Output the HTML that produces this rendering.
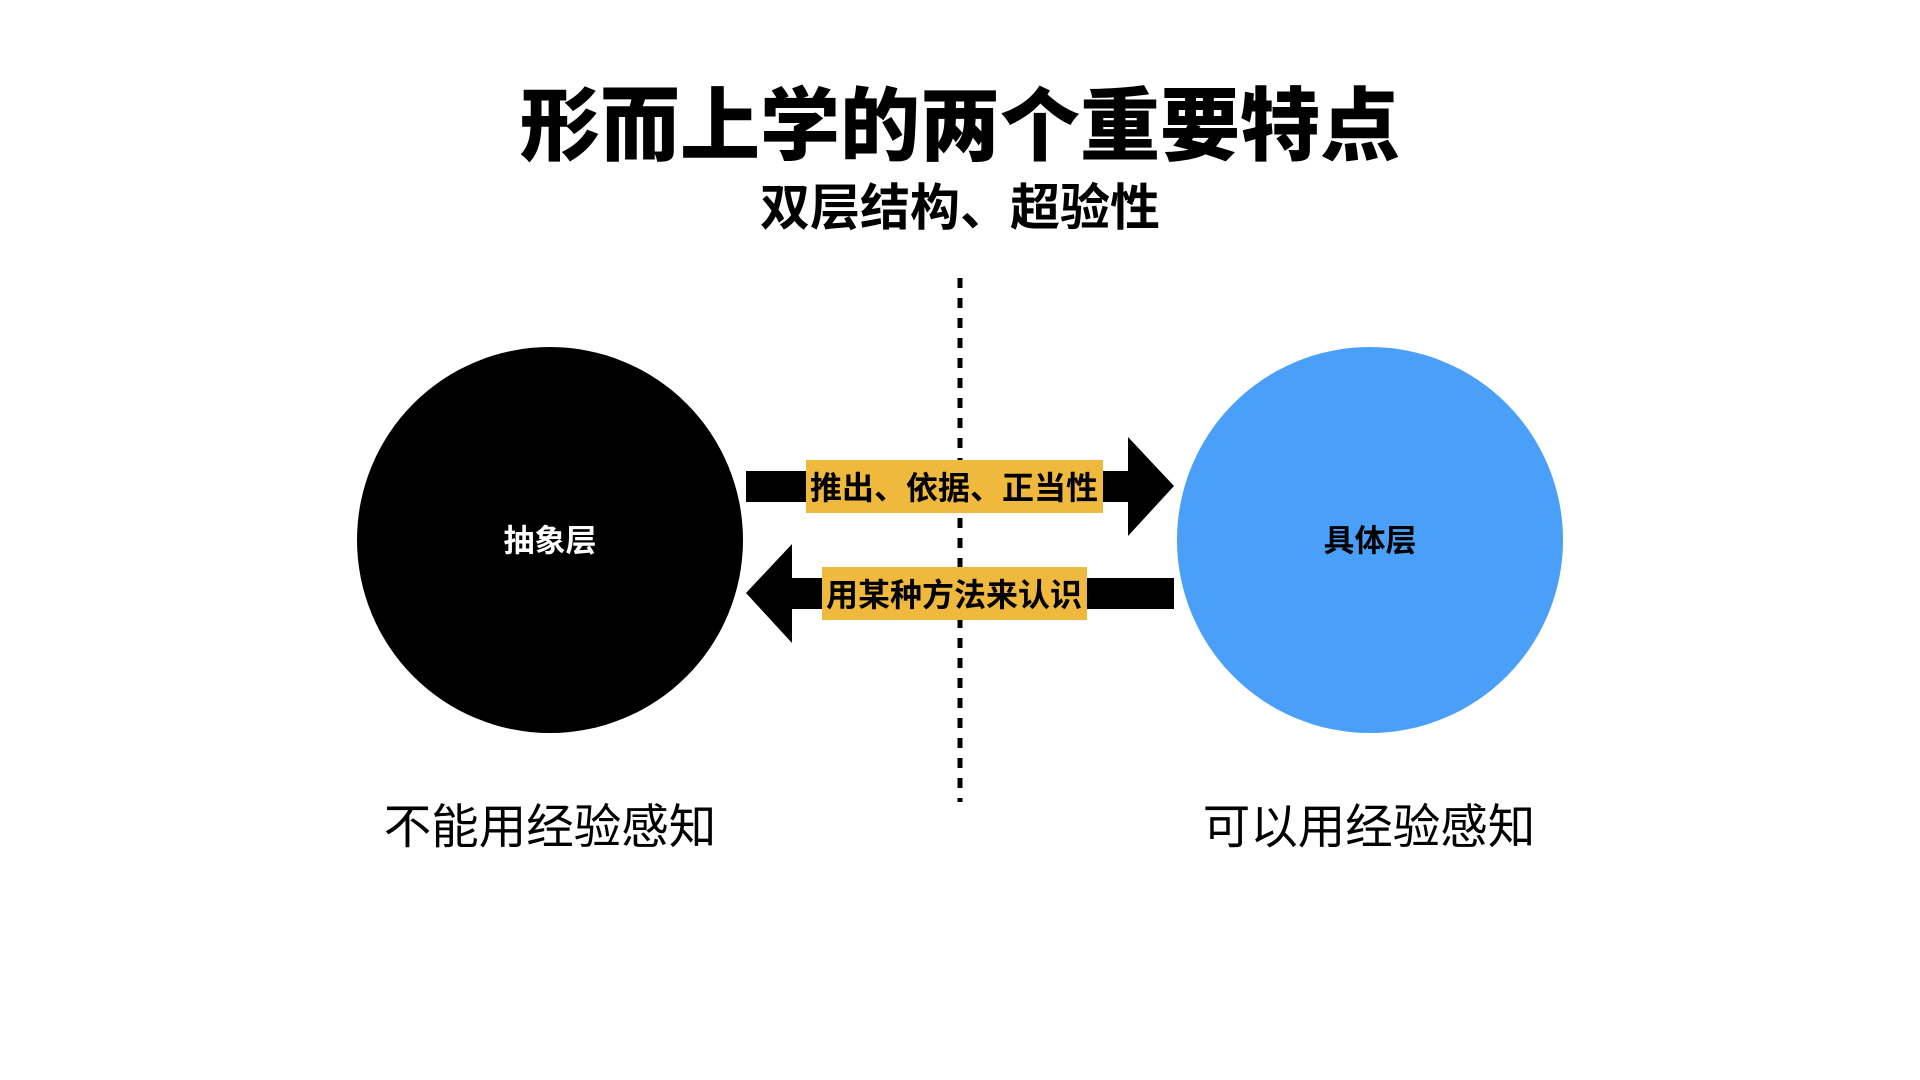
<!DOCTYPE html>
<html><head><meta charset="utf-8"><style>
html,body{margin:0;padding:0;background:#fff;width:1920px;height:1080px;overflow:hidden;position:relative;font-family:"Liberation Sans","Noto Sans CJK SC",sans-serif;}
.t{position:absolute;white-space:nowrap;transform:translate(-50%,-50%);line-height:1;}
</style></head><body>
<div class="t" style="left:960px;top:127px;font-size:80px;font-weight:900;">形而上学的两个重要特点</div>
<div class="t" style="left:960px;top:208px;font-size:50px;font-weight:700;">双层结构、超验性</div>
<svg width="1920" height="1080" style="position:absolute;left:0;top:0">
<line x1="960" y1="278" x2="960" y2="802" stroke="#000" stroke-width="5" stroke-dasharray="10 10"/>
<circle cx="550" cy="540" r="193" fill="#000"/>
<circle cx="1370" cy="540" r="193" fill="#4aa0f8"/>
<rect x="746" y="471" width="384" height="31" fill="#000"/>
<polygon points="1128,437 1174,486 1128,536" fill="#000"/>
<rect x="792" y="578" width="382" height="31" fill="#000"/>
<polygon points="792,544 746,593 792,643" fill="#000"/>
<rect x="806" y="460" width="297" height="53" fill="#efb93d"/>
<rect x="822" y="567" width="265" height="53" fill="#efb93d"/>
</svg>
<div class="t" style="left:954px;top:488px;font-size:32px;font-weight:700;">推出、依据、正当性</div>
<div class="t" style="left:954px;top:595px;font-size:32px;font-weight:700;">用某种方法来认识</div>
<div class="t" style="left:550px;top:541px;font-size:31px;font-weight:700;color:#fff;">抽象层</div>
<div class="t" style="left:1370px;top:541px;font-size:31px;font-weight:700;">具体层</div>
<div class="t" style="left:550px;top:828px;font-size:47.5px;">不能用经验感知</div>
<div class="t" style="left:1369px;top:828px;font-size:47.5px;">可以用经验感知</div>
</body></html>
